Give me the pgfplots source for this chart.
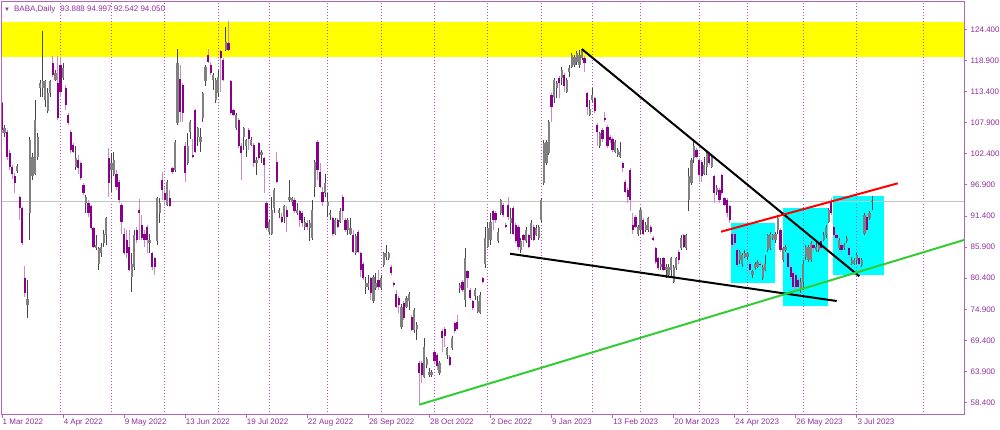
\documentclass[border=0pt]{standalone}
\usepackage{fontspec}
\setmainfont{Liberation Sans}
\usepackage{pgfplots}
\usepackage{pgfplotstable}
\pgfplotsset{compat=1.18}
\definecolor{frame}{RGB}{180,100,185}
\definecolor{lbl}{RGB}{145,45,155}
\definecolor{sep}{RGB}{200,70,200}
\definecolor{upbody}{RGB}{128,128,128}
\definecolor{upwick}{RGB}{70,70,70}
\definecolor{dnbody}{RGB}{139,0,139}
\definecolor{dnwick}{RGB}{200,140,200}
\definecolor{lgreen}{RGB}{50,205,50}
\definecolor{curline}{RGB}{195,195,195}
\definecolor{zoneyellow}{RGB}{255,255,0}
\definecolor{boxcyan}{RGB}{0,255,255}
\definecolor{tlred}{RGB}{255,0,0}
\pgfplotstableread{
i o h l c
0 111.3 111.6 106.0 106.6
1 106.0 107.5 105.4 106.9
2 106.3 106.6 101.3 101.9
3 102.5 103.0 99.5 100.0
4 100.0 100.5 98.0 98.9
5 98.5 99.0 95.5 97.2
6 99.3 100.6 99.0 100.3
7 94.8 95.0 90.7 92.8
8 92.8 93.0 86.3 86.6
9 80.4 82.5 77.0 77.7
10 75.7 80.1 73.3 76.8
11 91.9 105.4 87.2 104.8
12 98.4 102.5 97.8 101.9
13 98.9 111.9 98.7 108.4
14 101.9 106.0 101.3 105.4
15 114.0 115.5 112.5 114.9
16 114.0 124.1 112.5 115.2
17 111.9 115.5 110.7 115.2
18 109.9 114.0 109.6 113.1
19 113.1 115.5 112.5 115.2
20 118.4 119.6 116.0 116.3
21 115.5 117.2 115.2 116.6
22 114.9 119.6 108.3 108.7
23 118.1 119.6 112.5 113.4
24 115.8 118.4 115.5 117.5
25 114.0 114.6 110.2 111.0
26 109.3 109.6 107.5 107.8
27 106.3 106.6 102.5 103.1
28 104.0 104.3 102.5 102.8
29 100.1 103.7 99.5 101.6
30 101.3 102.2 98.9 99.8
31 100.7 101.0 97.8 98.1
32 96.9 97.2 95.1 95.4
33 93.7 95.1 91.9 94.8
34 93.7 94.2 91.3 91.9
35 93.1 93.4 88.9 89.2
36 89.2 89.5 85.7 86.0
37 85.7 88.0 85.4 86.3
38 83.0 86.0 81.9 85.7
39 84.8 86.6 84.2 86.0
40 86.6 88.9 86.0 88.3
41 88.0 91.3 86.3 91.0
42 101.6 103.4 94.8 97.2
43 99.5 102.5 95.7 100.7
44 98.9 102.8 98.4 101.3
45 98.9 99.5 96.0 96.6
46 97.5 97.8 93.7 94.2
47 93.4 93.7 88.3 90.4
48 88.3 89.2 84.5 84.8
49 87.2 88.9 83.9 84.8
50 86.0 88.9 81.6 81.9
51 80.7 84.8 78.0 83.0
52 82.4 88.9 81.9 88.0
53 88.9 89.5 86.6 87.2
54 92.5 94.4 87.2 91.9
55 89.8 91.6 87.2 87.5
56 88.3 88.9 86.0 87.2
57 89.5 89.8 84.8 87.2
58 86.6 88.3 84.8 87.2
59 84.8 85.1 81.9 82.4
60 83.9 84.2 81.0 82.4
61 86.9 94.8 86.3 94.5
62 91.9 94.5 90.1 93.7
63 97.8 99.2 94.2 96.0
64 95.4 96.6 93.1 94.2
65 93.4 97.8 93.1 97.5
66 94.5 96.0 93.0 93.1
67 99.8 100.1 98.9 99.2
68 99.5 104.8 99.2 104.5
69 107.8 121.0 107.5 118.5
70 115.7 118.1 108.1 109.8
71 114.6 114.9 108.1 109.6
72 103.7 104.5 97.5 99.0
73 100.7 106.0 100.4 103.7
74 106.3 108.4 105.1 108.1
75 102.2 105.1 101.6 101.9
76 110.2 110.4 102.5 102.8
77 105.4 107.2 103.7 106.9
78 104.5 106.9 102.8 105.4
79 108.7 113.4 108.1 113.1
80 115.2 118.1 114.3 117.8
81 119.9 121.0 118.4 118.7
82 118.1 118.7 116.3 116.6
83 115.5 116.6 113.7 116.3
84 111.9 115.8 111.3 115.5
85 113.1 117.2 112.5 116.0
86 120.5 120.8 113.4 119.3
87 119.0 119.3 115.2 115.5
88 120.8 124.9 120.5 122.2
89 122.0 125.8 120.5 120.8
90 115.2 115.5 109.3 109.6
91 110.2 110.4 109.0 109.3
92 106.9 109.6 106.6 109.3
93 108.4 108.7 103.4 103.7
94 103.7 104.3 97.8 102.5
95 105.4 107.2 103.1 106.9
96 103.7 105.1 101.9 104.8
97 106.6 106.9 103.1 105.1
98 104.0 105.4 103.7 104.8
99 104.0 104.3 100.1 100.7
100 100.7 101.9 98.7 101.3
101 104.3 104.5 101.3 101.6
102 102.2 103.1 100.7 102.8
103 101.6 101.9 95.4 100.4
104 93.7 94.0 88.9 89.2
105 88.6 90.7 88.3 90.4
106 88.3 94.8 88.0 92.5
107 92.8 96.3 91.9 96.0
108 101.0 102.8 97.2 97.5
109 91.9 92.8 91.0 92.5
110 91.3 91.9 90.1 90.4
111 91.3 93.4 90.1 93.1
112 92.5 93.1 88.6 91.3
113 94.2 97.8 93.9 94.8
114 93.9 94.8 93.1 94.5
115 94.2 94.5 91.9 92.2
116 91.9 93.7 91.6 92.5
117 92.2 92.5 89.5 90.7
118 91.9 92.2 89.5 90.1
119 89.5 91.3 88.9 90.4
120 90.1 90.7 88.9 89.5
121 89.2 90.7 86.9 90.1
122 87.5 94.2 87.2 92.5
123 96.6 101.3 94.8 101.0
124 104.5 104.8 97.8 99.5
125 99.2 100.7 96.3 96.6
126 95.7 96.6 93.1 93.9
127 95.4 98.9 94.8 97.2
128 93.1 95.4 91.3 93.9
129 91.6 92.5 90.7 91.9
130 91.0 91.3 87.8 88.3
131 88.3 91.0 88.0 90.7
132 90.7 91.0 89.2 89.5
133 90.4 92.8 90.1 92.2
134 94.8 95.1 90.7 92.2
135 90.7 91.0 88.6 88.9
136 88.9 91.0 88.0 90.7
137 88.3 91.0 88.0 89.2
138 88.0 88.9 84.8 85.1
139 84.8 88.3 84.5 87.8
140 88.6 88.9 84.8 85.1
141 84.8 85.1 80.7 81.9
142 83.0 83.3 80.1 80.4
143 78.9 80.7 77.7 79.5
144 78.9 81.0 78.3 79.5
145 80.4 80.7 76.6 77.7
146 76.3 81.0 76.0 80.7
147 78.6 81.3 78.3 79.5
148 80.1 81.9 78.3 78.9
149 78.6 81.0 78.3 80.4
150 82.7 85.1 82.4 84.8
151 84.2 86.3 83.6 84.8
152 83.9 85.1 83.6 84.8
153 82.4 82.7 81.0 81.3
154 79.5 79.8 78.9 79.2
155 77.7 78.3 75.1 75.4
156 76.9 77.2 74.2 75.7
157 71.8 75.9 71.5 75.4
158 76.0 76.3 73.0 73.3
159 75.4 77.2 75.1 76.9
160 76.3 78.0 74.8 77.7
161 73.6 73.9 71.0 71.3
162 71.3 75.1 70.7 74.8
163 71.5 72.7 69.5 72.1
164 65.4 65.7 58.1 63.6
165 65.4 65.7 61.8 63.3
166 63.0 69.8 62.7 68.3
167 65.1 66.5 64.5 66.2
168 63.3 64.5 63.0 63.9
169 63.3 64.2 63.0 63.9
170 67.4 67.7 65.4 65.7
171 66.8 67.1 64.2 64.8
172 63.6 65.7 63.3 65.4
173 71.0 71.5 67.4 69.8
174 71.5 71.8 68.3 70.1
175 66.8 68.3 66.2 68.0
176 66.5 66.8 64.8 65.1
177 68.0 70.1 67.7 69.8
178 72.4 72.7 70.7 71.0
179 72.7 73.9 71.3 71.5
180 78.6 79.5 77.7 79.2
181 79.8 80.1 78.0 78.3
182 76.5 85.7 75.4 83.9
183 81.6 81.9 78.6 80.4
184 78.3 78.6 76.6 76.9
185 76.3 76.6 74.8 75.1
186 77.2 78.6 76.6 78.3
187 74.5 77.2 74.2 76.3
188 74.2 78.0 74.0 77.5
189 80.4 80.7 79.5 79.8
190 83.0 89.5 82.2 87.5
191 86.0 90.4 85.7 89.2
192 87.2 91.9 86.3 90.4
193 92.2 92.5 88.9 90.7
194 91.9 92.2 90.1 90.7
195 86.9 89.2 86.6 88.6
196 91.9 94.4 91.6 94.2
197 93.4 93.7 91.3 91.6
198 89.8 90.1 89.2 89.5
199 93.4 94.8 90.7 91.3
200 90.1 92.8 88.3 91.0
201 92.8 93.1 88.0 88.3
202 89.8 90.1 86.6 86.9
203 89.5 89.8 85.4 86.0
204 85.4 87.5 84.8 86.9
205 88.0 88.3 86.0 87.2
206 86.9 89.5 86.6 88.9
207 88.0 88.3 85.7 86.0
208 87.5 90.7 87.2 90.1
209 89.5 89.8 86.9 87.2
210 88.0 89.8 87.8 89.2
211 87.5 89.8 87.2 89.5
212 90.7 94.5 90.4 94.2
213 97.2 104.8 96.9 104.3
214 100.7 104.8 100.4 104.5
215 102.5 108.4 102.2 108.1
216 112.8 113.1 108.1 110.7
217 112.5 115.8 111.3 115.5
218 114.0 115.2 112.2 114.9
219 115.8 116.1 112.2 114.9
220 115.8 117.8 114.6 117.2
221 116.3 116.6 113.4 114.3
222 113.4 115.8 113.1 115.5
223 116.9 118.1 116.0 117.5
224 117.8 120.2 117.5 119.9
225 118.1 119.9 117.8 119.6
226 118.7 120.5 118.1 120.2
227 118.1 120.8 117.5 119.9
228 119.3 121.0 119.0 120.8
229 119.3 119.6 116.9 118.4
230 113.1 113.4 109.3 110.7
231 109.3 111.9 109.0 110.4
232 111.9 114.0 111.6 112.8
233 112.2 112.5 109.6 109.9
234 107.5 107.8 103.7 106.3
235 103.7 106.3 103.4 106.0
236 106.6 106.9 104.5 105.1
237 108.7 109.8 108.1 108.4
238 107.2 107.5 103.4 103.7
239 105.4 105.7 104.3 104.8
240 105.1 105.4 102.8 103.1
241 102.8 104.8 102.5 104.5
242 102.2 103.4 101.9 103.1
243 101.9 104.5 101.6 102.8
244 100.7 101.0 99.2 99.8
245 97.5 97.8 95.4 95.7
246 96.0 96.3 93.7 94.8
247 99.5 99.8 92.2 94.2
248 89.8 91.9 88.3 88.9
249 91.3 91.6 89.2 89.5
250 88.3 89.8 87.8 89.5
251 88.9 92.8 88.3 92.5
252 90.7 91.0 88.0 88.3
253 88.9 90.4 88.6 89.8
254 88.9 91.3 88.6 91.0
255 89.5 89.8 88.3 88.6
256 87.5 87.8 86.9 87.2
257 85.7 86.0 83.0 83.3
258 83.9 84.2 81.9 82.2
259 82.4 83.9 81.9 83.0
260 83.9 84.2 81.6 81.9
261 81.9 83.0 80.4 82.4
262 81.0 83.0 80.7 82.4
263 81.9 84.2 80.7 83.9
264 79.8 82.7 79.5 82.4
265 82.2 84.2 81.9 83.9
266 85.1 85.4 83.0 83.6
267 85.7 88.0 85.4 87.5
268 88.0 88.3 85.7 86.0
269 85.7 88.3 85.4 88.0
270 94.2 99.8 92.2 98.4
271 97.2 101.6 96.9 101.3
272 101.6 104.5 100.7 103.7
273 103.1 103.4 101.6 101.9
274 101.3 101.6 97.5 98.7
275 101.0 101.3 97.5 98.4
276 98.9 101.9 98.7 100.4
277 100.1 102.8 98.7 102.5
278 102.5 102.8 100.4 100.7
279 100.1 102.2 99.8 101.9
280 98.4 98.7 93.7 95.4
281 95.7 96.9 95.1 96.3
282 96.0 96.3 93.7 94.2
283 98.7 98.9 95.1 95.4
284 94.5 94.8 93.1 93.4
285 94.2 94.5 91.3 91.9
286 93.1 93.4 90.1 90.7
287 88.3 88.6 85.7 86.3
288 88.3 88.6 86.3 86.6
289 85.4 85.7 82.4 82.7
290 83.6 85.4 83.0 85.1
291 83.0 84.8 82.4 84.5
292 84.2 85.4 83.9 84.8
293 84.2 85.1 83.6 84.8
294 83.0 83.3 81.3 81.9
295 81.0 81.9 80.4 81.6
296 82.2 83.3 81.9 83.0
297 82.4 83.6 82.2 83.3
298 83.0 83.3 82.4 82.7
299 80.4 82.7 80.1 82.4
300 81.9 84.5 81.6 83.0
301 85.4 88.3 85.1 88.0
302 85.7 88.6 85.4 88.3
303 87.5 88.3 87.2 88.0
304 87.2 88.6 86.6 88.3
305 88.9 91.6 88.3 91.0
306 88.9 89.2 85.1 85.4
307 83.6 86.0 83.3 85.7
308 85.4 86.3 85.1 86.0
309 84.8 85.1 82.2 82.4
310 82.4 82.7 80.1 80.7
311 81.3 81.6 78.3 78.9
312 81.0 81.3 78.3 78.9
313 80.1 80.4 78.6 78.9
314 78.3 80.4 77.7 79.8
315 79.8 83.6 78.3 83.0
316 84.2 86.3 83.6 86.0
317 83.6 86.3 83.3 86.0
318 83.6 86.9 83.3 86.6
319 86.3 86.6 85.1 85.7
320 85.4 86.9 85.1 86.0
321 85.4 86.6 85.1 86.3
322 86.9 87.2 85.4 85.7
323 87.2 88.6 86.9 88.0
324 88.0 89.8 87.5 89.5
325 90.4 92.8 90.1 92.5
326 93.9 94.5 91.6 91.9
327 89.5 89.8 87.8 88.0
328 88.0 88.3 86.9 87.5
329 85.7 87.5 85.4 87.2
330 86.3 86.6 84.8 85.4
331 85.7 86.6 85.4 86.3
332 86.9 87.8 86.6 87.5
333 85.7 86.0 84.2 84.5
334 83.0 84.2 82.7 83.6
335 83.0 83.9 82.7 83.6
336 83.6 84.8 83.0 84.5
337 83.9 84.2 82.7 83.0
338 82.7 83.9 82.4 83.6
339 88.3 91.9 88.0 91.6
340 91.3 91.6 88.6 88.9
341 91.0 92.2 90.7 91.9
342 93.888 94.997 92.542 94.050
}\candles

\begin{document}
\begin{tikzpicture}
\useasboundingbox (0,0) rectangle (1000pt,430pt);
\begin{axis}[
  at={(1.7pt,15pt)}, anchor=south west,
  width=962.3pt, height=413.3pt, scale only axis,
  xmin=-0.12, xmax=378.14, ymin=56.22, ymax=129.29,
  axis line style={draw=frame, line width=1pt},
  tick style={draw=frame, line width=0.8pt},
  tick align=outside, major tick length=3pt, minor tick num=0,
  xtick pos=left, ytick pos=right,
  xtick={0,24,48,72,96,120,144,168,192,216,240,264,288,312,336},
  xticklabels={1 Mar 2022,4 Apr 2022,9 May 2022,13 Jun 2022,19 Jul 2022,22 Aug 2022,26 Sep 2022,28 Oct 2022,2 Dec 2022,9 Jan 2023,13 Feb 2023,20 Mar 2023,24 Apr 2023,26 May 2023,3 Jul 2023},
  ytick={58.4,63.9,69.4,74.9,80.4,85.9,91.4,96.9,102.4,107.9,113.4,118.9,124.4},
  yticklabels={58.400,63.900,69.400,74.900,80.400,85.900,91.400,96.900,102.400,107.900,113.400,118.900,124.400},
  ticklabel style={font=\fontsize{8}{9.6}\selectfont, text=lbl},
  xticklabel style={anchor=north west, inner sep=0pt, yshift=-1pt, xshift=0.5pt},
  yticklabel style={anchor=west, inner sep=0pt, xshift=3.5pt},
  axis on top,
]
% yellow resistance zone
\addplot[fill=zoneyellow, draw=none, forget plot] coordinates {(-5,119.45) (400,119.45) (400,125.78) (-5,125.78)};
% cyan boxes
\addplot[fill=boxcyan, draw=none, forget plot] coordinates {(286.7,79.55) (303.9,79.55) (303.9,90.21) (286.7,90.21)};
\addplot[fill=boxcyan, draw=none, forget plot] coordinates {(306.9,75.53) (324.8,75.53) (324.8,92.87) (306.9,92.87)};
\addplot[fill=boxcyan, draw=none, forget plot] coordinates {(326.8,80.92) (346.8,80.92) (346.8,94.93) (326.8,94.93)};
% period separators
\addplot[ycomb, draw=sep, line width=0.9pt, dash pattern=on 1pt off 2pt, mark=none, forget plot] coordinates {(23,140) (43,140) (64,140) (85,140) (105,140) (128,140) (149,140) (170,140) (191,140) (212,140) (232,140) (251,140) (274,140) (293,140) (315,140) (336,140) (362,140)};
% current price line
\addplot[draw=curline, line width=0.8pt, forget plot] coordinates {(-5,94.05) (400,94.05)};
% wicks
\addplot[draw=none, mark=none, forget plot,
  restrict expr to domain={\thisrow{c}-\thisrow{o}}{0:1000},
  error bars/.cd, y dir=both, y explicit, error mark=none,
  error bar style={draw=upwick, line width=1pt}]
  table[x=i, y expr={(\thisrow{h}+\thisrow{l})/2}, y error expr={(\thisrow{h}-\thisrow{l})/2}] {\candles};
\addplot[draw=none, mark=none, forget plot,
  restrict expr to domain={\thisrow{c}-\thisrow{o}}{-1000:-0.0001},
  error bars/.cd, y dir=both, y explicit, error mark=none,
  error bar style={draw=dnwick, line width=1pt}]
  table[x=i, y expr={(\thisrow{h}+\thisrow{l})/2}, y error expr={(\thisrow{h}-\thisrow{l})/2}] {\candles};
% bodies
\addplot[draw=none, mark=none, forget plot,
  restrict expr to domain={\thisrow{c}-\thisrow{o}}{0:1000},
  error bars/.cd, y dir=both, y explicit, error mark=none,
  error bar style={draw=upbody, line width=2.2pt}]
  table[x=i, y expr={(\thisrow{o}+\thisrow{c})/2}, y error expr={abs(\thisrow{c}-\thisrow{o})/2}] {\candles};
\addplot[draw=none, mark=none, forget plot,
  restrict expr to domain={\thisrow{c}-\thisrow{o}}{-1000:-0.0001},
  error bars/.cd, y dir=both, y explicit, error mark=none,
  error bar style={draw=dnbody, line width=2.2pt}]
  table[x=i, y expr={(\thisrow{o}+\thisrow{c})/2}, y error expr={abs(\thisrow{c}-\thisrow{o})/2}] {\candles};
% trend lines
\addplot[draw=black, line width=2pt, forget plot] coordinates {(227.9,120.92) (337.0,80.74)};
\addplot[draw=black, line width=2pt, forget plot] coordinates {(199.7,84.73) (328.1,76.37)};
\addplot[draw=lgreen, line width=2pt, forget plot] coordinates {(164.0,58.04) (378.14,87.16)};
\addplot[draw=tlred, line width=2pt, forget plot] coordinates {(282.6,88.62) (352.1,97.18)};
% header
\node[anchor=west, inner sep=0pt, xshift=2.3pt, yshift=-7.5pt, text=lbl, font=\fontsize{8}{9.6}\selectfont] at (rel axis cs:0,1) {{\fontsize{6}{6}\selectfont ▼}\hspace{4pt}BABA,Daily\hspace{5pt}93.888 94.997 92.542 94.050};
% current price label
\node[anchor=west, fill=dnbody, text=white, inner xsep=3.5pt, inner ysep=1.2pt, text height=5.8pt, text depth=0pt, xshift=0.8pt, font=\fontsize{8}{9.6}\selectfont] at (axis cs:378.14,94.05) {94.050};
\end{axis}
\end{tikzpicture}
\end{document}
